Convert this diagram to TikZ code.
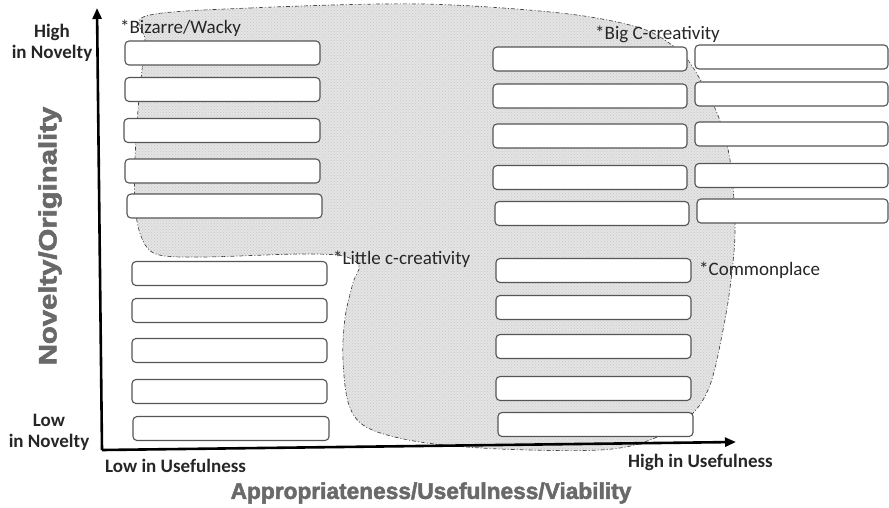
\documentclass[tikz,border=0pt]{standalone}
\usepackage{fontspec}
\usepackage{graphicx}
\setmainfont{Carlito}
\newfontfamily\titlefont[FakeBold=2.2]{Liberation Sans Bold}
\usetikzlibrary{arrows.meta,patterns}
\definecolor{boxline}{RGB}{85,85,85}
\definecolor{blobfill}{RGB}{228,228,228}
\definecolor{titlegray}{RGB}{105,105,105}
\tikzset{
  cell/.style={draw=boxline, line width=1.1pt, fill=white, rounded corners=4pt,
    inner sep=0pt, minimum height=24pt},
  zone/.style={draw=black!75, line width=0.7pt, dash pattern=on 4pt off 2pt on 1pt off 2pt,
    fill=blobfill, postaction={pattern=crosshatch dots, pattern color=black!22}},
  axis/.style={line width=2.6pt, -{Triangle[length=11pt,width=9pt]}},
  tag/.style={font=\fontsize{19}{21}\selectfont, inner sep=0pt, text=black!85},
  endlabel/.style={font=\bfseries\fontsize{19}{21}\selectfont, inner sep=0pt, align=center, text=black!85},
  axistitle/.style={font=\titlefont\fontsize{22.7}{25}\selectfont, text=titlegray, inner sep=0pt}
}
\begin{document}
\begin{tikzpicture}[x=1pt,y=-1pt]
\useasboundingbox (0,0) rectangle (889,507);

% shaded region of creative outcomes
\path[zone] plot[smooth cycle, tension=0.55] coordinates {
  (146,16) (250,8) (420,4) (560,13) (637,27) (672,45) (692,66) (717,113)
  (730,160) (735,227) (731,280) (723,330) (710,385) (690,416) (650,440)
  (600,450) (500,449) (420,442) (368,428) (349,405) (343,360) (345,318)
  (353,283) (359,266) (343,256) (300,254) (200,257) (156,254) (141,236)
  (135,205) (135,160) (138,110) (142,70) (145,40)};

% axes
\coordinate (origin) at (102,450);
\coordinate (ytip) at (97,8);
\coordinate (xtip) at (736,442);
\draw[axis] (origin) -- (ytip);
\draw[axis] (origin) -- (xtip);

% left column, upper group
\node[cell, minimum width=195pt] (a1) at (222.5,53) {};
\node[cell, minimum width=195pt] (a2) at (222.5,89.5) {};
\node[cell, minimum width=196pt] (a3) at (222,130.5) {};
\node[cell, minimum width=195pt] (a4) at (222.5,171) {};
\node[cell, minimum width=195pt] (a5) at (224.5,206) {};
% left column, lower group
\node[cell, minimum width=195pt] (b1) at (229.5,273.5) {};
\node[cell, minimum width=195pt] (b2) at (229.5,310.5) {};
\node[cell, minimum width=195pt] (b3) at (229.5,350.5) {};
\node[cell, minimum width=195pt] (b4) at (229.5,391.5) {};
\node[cell, minimum width=196pt] (b5) at (231,428.5) {};
% middle column, upper group
\node[cell, minimum width=194pt] (c1) at (590,59) {};
\node[cell, minimum width=194pt] (c2) at (590,96) {};
\node[cell, minimum width=194pt] (c3) at (590,136) {};
\node[cell, minimum width=194pt] (c4) at (590,177.5) {};
\node[cell, minimum width=194pt] (c5) at (592,213.5) {};
% right column
\node[cell, minimum width=193pt] (d1) at (791.5,57) {};
\node[cell, minimum width=193pt] (d2) at (791.5,94) {};
\node[cell, minimum width=193pt] (d3) at (791.5,134) {};
\node[cell, minimum width=193pt] (d4) at (791.5,175.5) {};
\node[cell, minimum width=191pt] (d5) at (792.5,211) {};
% middle column, lower group
\node[cell, minimum width=195pt] (e1) at (593.5,270.5) {};
\node[cell, minimum width=195pt] (e2) at (593.5,307.5) {};
\node[cell, minimum width=195pt] (e3) at (593.5,346.5) {};
\node[cell, minimum width=195pt] (e4) at (593.5,388.5) {};
\node[cell, minimum width=195pt] (e5) at (595.5,424.5) {};

% region tags
\node[tag, anchor=west] (bizarre) at (120,28) {*Bizarre/Wacky};
\node[tag, anchor=west] (bigc) at (595,34) {*Big C-creativity};
\node[tag, anchor=west] (littlec) at (333,259) {*Little c-creativity};
\node[tag, anchor=west] (common) at (699,270) {*Commonplace};

% axis end labels
\node[endlabel] (high) at (52,43) {High\\in Novelty};
\node[endlabel] (low) at (49,432.5) {Low\\in Novelty};
\node[endlabel, anchor=west] (lowuse) at (105,466) {Low in Usefulness};
\node[endlabel, anchor=west] (highuse) at (628,462) {High in Usefulness};

% axis titles
\node[axistitle, rotate=90] (ytitle) at (50,236)
  {\scalebox{1.17}[1]{\fontsize{25}{27}\selectfont Novelty/Originality}};
\node[axistitle] (xtitle) at (431,493) {Appropriateness/Usefulness/Viability};
\end{tikzpicture}
\end{document}
